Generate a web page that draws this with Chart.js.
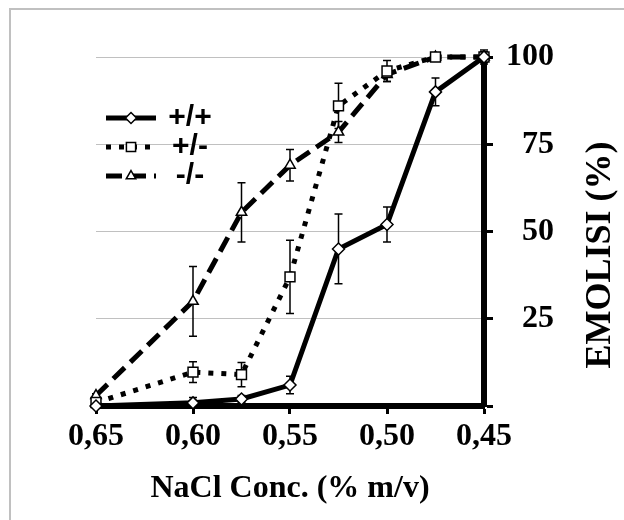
<!DOCTYPE html>
<html>
<head>
<meta charset="utf-8">
<script src="https://cdn.jsdelivr.net/npm/chart.js@4.4.0/dist/chart.umd.min.js"></script>
<style>
  body { margin: 0; background: #fff; }
  #frame { position: absolute; left: 9px; top: 8px; width: 700px; height: 600px;
           border-left: 2px solid #c0c0c0; border-top: 2px solid #c0c0c0; }
  #chart { position: absolute; left: 0; top: 0; }
</style>
</head>
<body>
<div id="frame"></div>
<canvas id="chart" width="624" height="520"></canvas>
<script>
// NaCl concentration (% m/v), read right-to-left on the chart
const concentrations = [0.65, 0.60, 0.575, 0.55, 0.525, 0.50, 0.475, 0.45];
const xTickValues = [0.65, 0.60, 0.55, 0.50, 0.45];

const seriesNames = ['+/+', '+/-', '-/-'];

// haemolysis %, with error bar half-lengths
const wildType = [0, 0.9, 2, 6, 45, 52, 90, 100];
const wildTypeErr = [0, 1.5, 1, 2.5, 10, 5, 4, 1.5];
const hetero = [1, 9.7, 9, 37, 86, 96, 100, 100];
const heteroErr = [0.5, 3, 3.5, 10.5, 6.5, 3, 1, 1];
const knockout = [3, 30, 55.5, 69, 78.5, 95, 100, 100];
const knockoutErr = [0.5, 10, 8.5, 4.5, 3, 2, 1, 2];

function toPoints(values) {
    return concentrations.map((c, i) => ({ x: c, y: values[i] }));
}

const errorBars = {
    id: 'errorBars',
    beforeDatasetsDraw(chart) {
        const ctx = chart.ctx;
        const xs = chart.scales.x, ys = chart.scales.y;
        ctx.save();
        ctx.strokeStyle = '#000';
        ctx.lineWidth = 1.5;
        ctx.setLineDash([]);
        chart.data.datasets.forEach(ds => {
            ds.data.forEach((p, i) => {
                const e = ds.errors[i];
                if (!e) return;
                const px = xs.getPixelForValue(p.x);
                const top = ys.getPixelForValue(p.y + e);
                const bot = ys.getPixelForValue(p.y - e);
                ctx.beginPath();
                ctx.moveTo(px, top); ctx.lineTo(px, bot);
                ctx.moveTo(px - 4, top); ctx.lineTo(px + 4, top);
                ctx.moveTo(px - 4, bot); ctx.lineTo(px + 4, bot);
                ctx.stroke();
            });
        });
        ctx.restore();
    }
};

const sideLabels = {
    id: 'sideLabels',
    afterDraw(chart) {
        const ctx = chart.ctx;
        ctx.save();
        // legend
        const rows = [118, 147, 176];
        chart.data.datasets.forEach((ds, i) => {
            const y = rows[i];
            ctx.strokeStyle = '#000';
            ctx.lineWidth = 5;
            ctx.lineCap = 'butt';
            ctx.setLineDash(ds.borderDash || []);
            ctx.beginPath();
            ctx.moveTo(106, y); ctx.lineTo(156, y);
            ctx.stroke();
            ctx.setLineDash([]);
            ctx.fillStyle = '#fff';
            ctx.strokeStyle = '#000';
            ctx.lineWidth = 1.5;
            Chart.helpers.drawPoint(ctx, {
                pointStyle: ds.pointStyle, radius: ds.pointRadius - 0.5,
                borderWidth: 1.5, rotation: 0
            }, 131, y);
            ctx.fillStyle = '#000';
            ctx.font = 'bold 30px "Liberation Sans", Arial, sans-serif';
            ctx.textAlign = 'center';
            ctx.textBaseline = 'middle';
            ctx.fillText(seriesNames[i], 190, y);
        });
        // y-axis title, reading bottom to top
        ctx.translate(601, 255);
        ctx.rotate(-Math.PI / 2);
        ctx.font = 'bold 36px "Liberation Serif", "Times New Roman", serif';
        ctx.textAlign = 'center';
        ctx.textBaseline = 'middle';
        ctx.fillStyle = '#000';
        ctx.fillText('EMOLISI (%)', 0, 0);
        ctx.restore();
    }
};

const serif = '"Liberation Serif", "Times New Roman", serif';

new Chart(document.getElementById('chart'), {
    type: 'line',
    data: {
        datasets: [
            {
                label: seriesNames[0], data: toPoints(wildType), errors: wildTypeErr,
                borderColor: '#000', borderWidth: 5, borderDash: [],
                pointStyle: 'rectRot', pointRadius: 6
            },
            {
                label: seriesNames[1], data: toPoints(hetero), errors: heteroErr,
                borderColor: '#000', borderWidth: 5, borderDash: [5, 8],
                pointStyle: 'rect', pointRadius: 7
            },
            {
                label: seriesNames[2], data: toPoints(knockout), errors: knockoutErr,
                borderColor: '#000', borderWidth: 5, borderDash: [16, 8],
                pointStyle: 'triangle', pointRadius: 6
            }
        ].map(ds => Object.assign(ds, {
            pointBackgroundColor: '#fff', pointBorderColor: '#000',
            pointBorderWidth: 1.5, tension: 0, fill: false, clip: false,
            borderCapStyle: 'butt'
        }))
    },
    options: {
        responsive: false,
        devicePixelRatio: 1,
        animation: false,
        layout: { padding: { left: 96, top: 57, right: 70, bottom: 0 } },
        plugins: { legend: { display: false }, tooltip: { enabled: false } },
        scales: {
            x: {
                type: 'linear', reverse: true, min: 0.45, max: 0.65,
                afterBuildTicks: s => { s.ticks = xTickValues.map(v => ({ value: v })); },
                afterFit: s => { s.height = 114; },
                grid: { drawOnChartArea: false, drawTicks: true, tickLength: 8,
                        tickColor: '#000', tickWidth: 3 },
                border: { color: '#000', width: 6 },
                ticks: {
                    padding: 4, color: '#000', maxRotation: 0,
                    font: { family: serif, weight: 'bold', size: 32 },
                    callback: v => v.toFixed(2).replace('.', ',')
                },
                title: {
                    display: true, text: 'NaCl Conc. (% m/v)', color: '#000',
                    font: { family: serif, weight: 'bold', size: 32 },
                    padding: { top: 0, bottom: 12 }
                }
            },
            y: {
                position: 'right', min: 0, max: 100,
                afterFit: s => { s.width = 70; },
                grid: { color: '#c0c0c0', lineWidth: 1, drawTicks: true, tickLength: 9,
                        tickColor: '#000', tickWidth: 3 },
                border: { color: '#000', width: 6 },
                ticks: {
                    stepSize: 25, padding: 13, crossAlign: 'far', color: '#000',
                    font: { family: serif, weight: 'bold', size: 32 },
                    callback: v => v === 0 ? '' : v
                }
            }
        }
    },
    plugins: [errorBars, sideLabels]
});
</script>
</body>
</html>
